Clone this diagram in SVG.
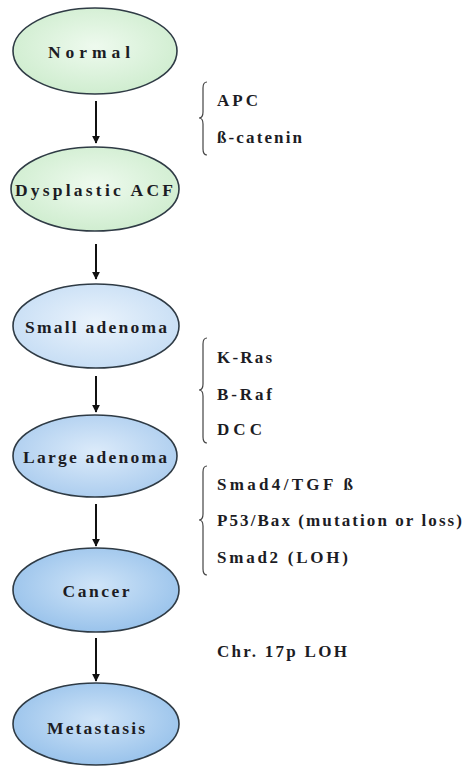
<svg xmlns="http://www.w3.org/2000/svg" width="471" height="767" viewBox="0 0 471 767">
  <defs>
    <radialGradient id="gGreen" cx="50%" cy="45%" r="60%">
      <stop offset="0" stop-color="#eefaee"/>
      <stop offset="1" stop-color="#cdeccd"/>
    </radialGradient>
    <radialGradient id="gBlue1" cx="50%" cy="45%" r="60%">
      <stop offset="0" stop-color="#eaf3fc"/>
      <stop offset="1" stop-color="#c4dcf4"/>
    </radialGradient>
    <radialGradient id="gBlue2" cx="50%" cy="45%" r="60%">
      <stop offset="0" stop-color="#dcebfa"/>
      <stop offset="1" stop-color="#a9cbee"/>
    </radialGradient>
    <radialGradient id="gBlue3" cx="50%" cy="45%" r="60%">
      <stop offset="0" stop-color="#cfe4f8"/>
      <stop offset="1" stop-color="#95c0ea"/>
    </radialGradient>
    <marker id="ah" viewBox="0 0 10 10" refX="9" refY="5" markerWidth="4" markerHeight="4" orient="auto" markerUnits="strokeWidth">
      <path d="M0,0 L10,5 L0,10 z" fill="#111"/>
    </marker>
  </defs>
  <style>
    .node ellipse { stroke: #2f3b45; stroke-width: 1.6; }
    .lbl { font-family: "Liberation Serif", "Times New Roman", serif; font-weight: bold; font-size: 17.5px; fill: #1c1c24; }
    .side { font-family: "Liberation Serif", "Times New Roman", serif; font-weight: bold; font-size: 17px; fill: #1c1c24; }
    .arrow { stroke: #111; stroke-width: 2; fill: none; marker-end: url(#ah); }
    .brace { stroke: #444; stroke-width: 1.2; fill: none; }
  </style>
  <rect width="471" height="767" fill="#ffffff"/>

  <g id="normal" class="node">
    <ellipse cx="95" cy="51" rx="82" ry="43" fill="url(#gGreen)"/>
    <text class="lbl" x="89" y="58" text-anchor="middle" textLength="82" lengthAdjust="spacing">Normal</text>
  </g>
  <g id="dysplastic-acf" class="node">
    <ellipse cx="95" cy="189" rx="84" ry="42" fill="url(#gGreen)"/>
    <text class="lbl" x="94" y="196" text-anchor="middle" textLength="158" lengthAdjust="spacing">Dysplastic ACF</text>
  </g>
  <g id="small-adenoma" class="node">
    <ellipse cx="96" cy="326" rx="83" ry="42" fill="url(#gBlue1)"/>
    <text class="lbl" x="96" y="333" text-anchor="middle" textLength="142" lengthAdjust="spacing">Small adenoma</text>
  </g>
  <g id="large-adenoma" class="node">
    <ellipse cx="95" cy="456" rx="82" ry="41" fill="url(#gBlue2)"/>
    <text class="lbl" x="95" y="463" text-anchor="middle" textLength="144" lengthAdjust="spacing">Large adenoma</text>
  </g>
  <g id="cancer" class="node">
    <ellipse cx="96" cy="590" rx="83" ry="42" fill="url(#gBlue3)"/>
    <text class="lbl" x="96" y="597" text-anchor="middle" textLength="67" lengthAdjust="spacing">Cancer</text>
  </g>
  <g id="metastasis" class="node">
    <ellipse cx="96" cy="724" rx="83" ry="41" fill="url(#gBlue3)"/>
    <text class="lbl" x="96" y="734" text-anchor="middle" textLength="98" lengthAdjust="spacing">Metastasis</text>
  </g>

  <g id="connectors">
    <line class="arrow" x1="96" y1="101" x2="96" y2="143"/>
    <line class="arrow" x1="96" y1="244" x2="96" y2="279"/>
    <line class="arrow" x1="96" y1="376" x2="96" y2="412"/>
    <line class="arrow" x1="96" y1="504" x2="96" y2="546"/>
    <line class="arrow" x1="96" y1="638" x2="96" y2="681"/>
  </g>

  <g id="group-apc">
    <path class="brace" d="M207,82 Q203,82 203,88 L203,112 Q203,118 199,118 Q203,118 203,124 L203,149 Q203,155 207,155"/>
    <text class="side" x="217" y="106" textLength="41" lengthAdjust="spacing">APC</text>
    <text class="side" x="217" y="143" textLength="85" lengthAdjust="spacing">ß-catenin</text>
  </g>
  <g id="group-kras">
    <path class="brace" d="M207,338 Q203,338 203,344 L203,384 Q203,390 199,390 Q203,390 203,396 L203,437 Q203,443 207,443"/>
    <text class="side" x="217" y="363" textLength="55" lengthAdjust="spacing">K-Ras</text>
    <text class="side" x="217" y="400" textLength="55" lengthAdjust="spacing">B-Raf</text>
    <text class="side" x="217" y="435" textLength="45" lengthAdjust="spacing">DCC</text>
  </g>
  <g id="group-smad">
    <path class="brace" d="M207,466 Q203,466 203,472 L203,514 Q203,520 199,520 Q203,520 203,526 L203,569 Q203,575 207,575"/>
    <text class="side" x="217" y="490" textLength="136" lengthAdjust="spacing">Smad4/TGF ß</text>
    <text class="side" x="217" y="526" textLength="245" lengthAdjust="spacing">P53/Bax (mutation or loss)</text>
    <text class="side" x="217" y="563" textLength="131" lengthAdjust="spacing">Smad2 (LOH)</text>
  </g>
  <g id="group-chr">
    <text class="side" x="217" y="657" textLength="130" lengthAdjust="spacing">Chr. 17p LOH</text>
  </g>
</svg>
